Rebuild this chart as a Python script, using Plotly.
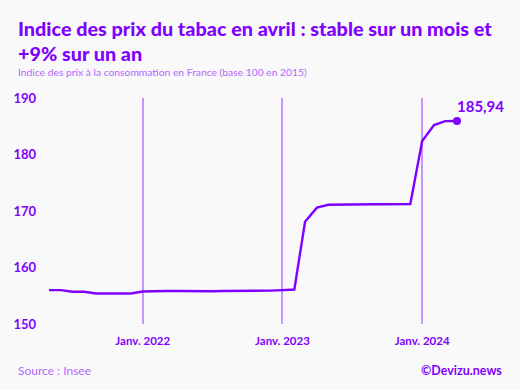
import plotly.graph_objects as go

months = ["2021-05-01","2021-06-01","2021-07-01","2021-08-01","2021-09-01","2021-10-01","2021-11-01","2021-12-01",
          "2022-01-01","2022-02-01","2022-03-01","2022-04-01","2022-05-01","2022-06-01","2022-07-01","2022-08-01",
          "2022-09-01","2022-10-01","2022-11-01","2022-12-01",
          "2023-01-01","2023-02-01","2023-03-01","2023-04-01","2023-05-01","2023-06-01","2023-07-01","2023-08-01",
          "2023-09-01","2023-10-01","2023-11-01","2023-12-01",
          "2024-01-01","2024-02-01","2024-03-01","2024-04-01"]
index_values = [156.0,156.0,155.7,155.7,155.4,155.4,155.4,155.4,
                155.75,155.85,155.85,155.85,155.8,155.8,155.8,155.85,
                155.85,155.85,155.9,155.9,
                156.0,156.1,168.1,170.6,171.1,171.15,171.15,171.2,
                171.2,171.2,171.2,171.25,
                182.4,185.2,185.9,185.94]
x_tickvals = ["2022-01-01","2023-01-01","2024-01-01"]
x_ticktext = ["Janv. 2022","Janv. 2023","Janv. 2024"]
y_tickvals = [150,160,170,180,190]
last_label = "185,94"
title_lines = ["Indice des prix du tabac en avril : stable sur un mois et", "+9% sur un an"]

PURPLE = "#8000ff"
LIGHT = "#b366ff"
GRID = "#c896ff"
BG = "#f9f9fa"
FONT = "Lato"

fig = go.Figure()
fig.add_trace(go.Scatter(x=months, y=index_values, mode="lines",
                         line=dict(color=PURPLE, width=2.4), hoverinfo="skip", cliponaxis=False))
fig.add_trace(go.Scatter(x=[months[-1]], y=[index_values[-1]], mode="markers",
                         marker=dict(color=PURPLE, size=8), cliponaxis=False, hoverinfo="skip"))

def py(pixel_y):
    return 1 + (98 - pixel_y) / 226

annotations = []
for i, line in enumerate(title_lines):
    annotations.append(dict(text=line, xref="paper", yref="paper", x=-33/408, y=py(28 + 25 * i),
                            xanchor="left", yanchor="middle", showarrow=False,
                            font=dict(family=FONT, size=19.8, color=PURPLE, weight=900)))
annotations += [
    dict(text="Indice des prix à la consommation en France (base 100 en 2015)",
         xref="paper", yref="paper", x=-33/408, y=py(72), xanchor="left", yanchor="middle",
         showarrow=False, font=dict(family=FONT, size=10.3, color=LIGHT)),
    dict(text="Source : Insee", xref="paper", yref="paper", x=-33/408, y=py(370),
         xanchor="left", yanchor="middle", showarrow=False,
         font=dict(family=FONT, size=12, color=LIGHT)),
    dict(text="©Devizu.news", xref="paper", yref="paper", x=(504-49)/408, y=py(370),
         xanchor="right", yanchor="middle", showarrow=False,
         font=dict(family=FONT, size=12.5, color=PURPLE, weight="bold")),
    dict(text=last_label, x=months[-1], y=index_values[-1], xref="x", yref="y",
         xanchor="left", yanchor="bottom", xshift=-2, yshift=4, showarrow=False,
         font=dict(family=FONT, size=15, color=PURPLE, weight="bold")),
]

fig.update_layout(
    width=520, height=390,
    paper_bgcolor=BG, plot_bgcolor=BG,
    margin=dict(l=49, r=63, t=98, b=66),
    showlegend=False,
    xaxis=dict(range=[months[0], months[-1]], tickvals=x_tickvals, ticktext=x_ticktext,
               showgrid=True, gridcolor=GRID, gridwidth=1.5, zeroline=False, showline=False,
               ticks="", ticklabelstandoff=8,
               tickfont=dict(family=FONT, size=11.5, color=PURPLE, weight="bold")),
    yaxis=dict(range=[150,190], tickvals=y_tickvals, showgrid=False, zeroline=False, showline=False,
               ticks="", ticklabelstandoff=12,
               tickfont=dict(family=FONT, size=13, color=PURPLE, weight="bold")),
    annotations=annotations,
)
fig.write_html("out.html", config={"displayModeBar": False},
               post_script="document.body.style.margin='0';")
